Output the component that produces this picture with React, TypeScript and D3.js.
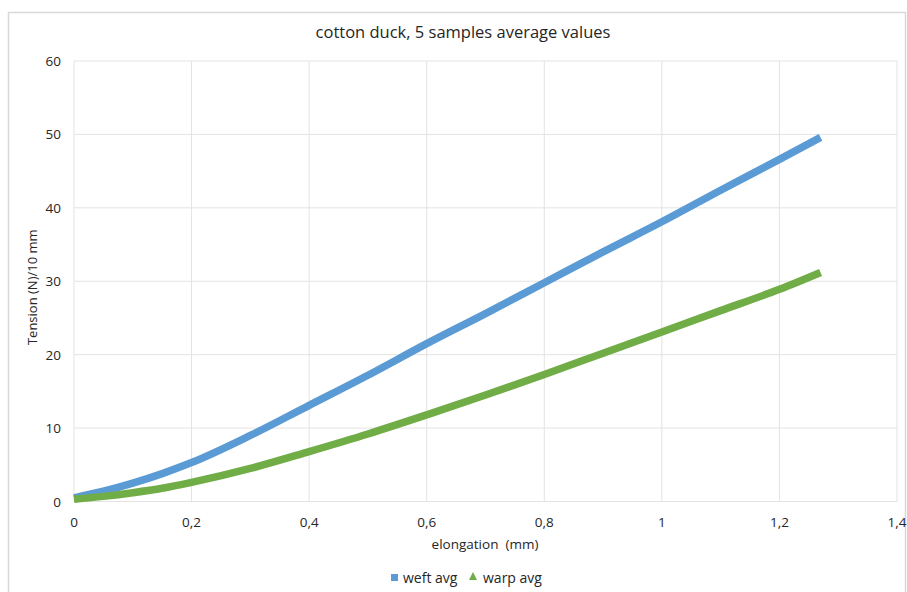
import React from "react";
import * as d3 from "d3";

const elongation = [0, 0.05, 0.1, 0.15, 0.2, 0.3, 0.4, 0.5, 0.6, 0.7, 0.8, 0.9, 1.0, 1.1, 1.2, 1.27];
const weftAvg = [0.5, 1.4, 2.5, 3.8, 5.3, 9.0, 13.1, 17.2, 21.5, 25.6, 29.8, 34.0, 38.1, 42.4, 46.6, 49.6];
const warpAvg = [0.3, 0.7, 1.2, 1.8, 2.6, 4.5, 6.8, 9.2, 11.8, 14.5, 17.3, 20.2, 23.1, 26.0, 28.9, 31.2];
const xTicks = [0, 0.2, 0.4, 0.6, 0.8, 1, 1.2, 1.4];
const yTicks = [0, 10, 20, 30, 40, 50, 60];
const seriesNames = ["weft avg", "warp avg"];
const colors = ["#5B9BD5", "#70AD47"];

const fmt = (v: number) => String(v).replace(".", ",");

export default function App() {
  const W = 907, H = 592;
  const x = d3.scaleLinear().domain([0, 1.4]).range([74, 897]);
  const y = d3.scaleLinear().domain([0, 60]).range([501.5, 61]);
  const line = d3
    .line<number>()
    .x((_, i) => x(elongation[i]))
    .y((d) => y(d))
    .curve(d3.curveMonotoneX);
  const font = "'Open Sans', 'Liberation Sans', sans-serif";
  const series = [weftAvg, warpAvg];
  return (
    <svg width={W} height={H} style={{ position: "absolute", left: 0, top: 0 }} fontFamily={font}>
      <rect x={0} y={0} width={W} height={H} fill="#fff" />
      <rect x={8.5} y={12.5} width={897} height={600} fill="#fff" stroke="#d9d9d9" strokeWidth={1.5} />
      <text x={463} y={38} textAnchor="middle" fontSize={16.5} fill="#262626">
        cotton duck, 5 samples average values
      </text>
      {yTicks.map((t) => (
        <g key={"y" + t}>
          <line x1={74} x2={897} y1={y(t)} y2={y(t)} stroke="#e3e3e3" strokeWidth={1} />
          <text x={61} y={y(t) + 5} textAnchor="end" fontSize={13.5} fill="#262626">
            {t}
          </text>
        </g>
      ))}
      {xTicks.map((t) => (
        <g key={"x" + t}>
          <line x1={x(t)} x2={x(t)} y1={61} y2={501.5} stroke="#e3e3e3" strokeWidth={1} />
          <text x={x(t)} y={527} textAnchor="middle" fontSize={13.5} fill="#262626">
            {fmt(t)}
          </text>
        </g>
      ))}
      <text x={485} y={549} textAnchor="middle" fontSize={13.5} fill="#262626">
        elongation&#160;&#160;(mm)
      </text>
      <text
        transform={`translate(37,${y(30) + 6}) rotate(-90)`}
        textAnchor="middle"
        fontSize={13}
        fill="#262626"
      >
        Tension (N)/10 mm
      </text>
      {series.map((s, i) => (
        <path
          key={i}
          d={line(s) || ""}
          fill="none"
          stroke={colors[i]}
          strokeWidth={7.5}
          strokeLinejoin="round"
        />
      ))}
      <rect x={391} y={574} width={7} height={7} fill={colors[0]} />
      <text x={403} y={582.5} fontSize={14} fill="#262626">
        {seriesNames[0]}
      </text>
      <path d="M473,572 L477,580 L469,580 Z" fill={colors[1]} />
      <text x={483} y={582.5} fontSize={14} fill="#262626">
        {seriesNames[1]}
      </text>
    </svg>
  );
}
